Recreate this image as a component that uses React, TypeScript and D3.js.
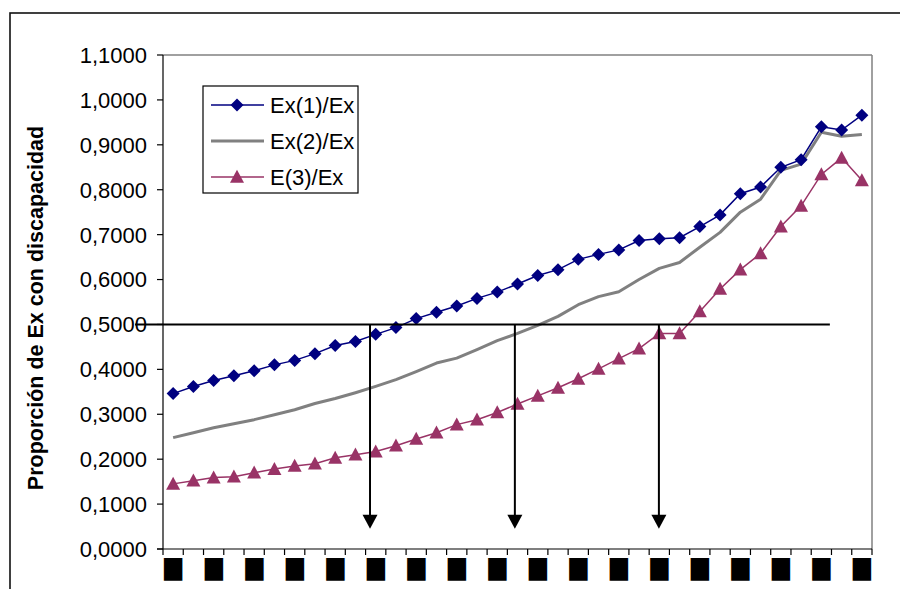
import React from "react";
import * as d3 from "d3";

const seriesNames = ["Ex(1)/Ex", "Ex(2)/Ex", "E(3)/Ex"];
const ex1 = [0.346, 0.362, 0.375, 0.386, 0.397, 0.41, 0.42, 0.435, 0.453, 0.462, 0.478, 0.493, 0.513, 0.527, 0.541, 0.558, 0.572, 0.59, 0.609, 0.622, 0.645, 0.656, 0.666, 0.687, 0.691, 0.693, 0.718, 0.744, 0.791, 0.806, 0.85, 0.867, 0.94, 0.933, 0.966];
const ex2 = [0.248, 0.259, 0.27, 0.279, 0.288, 0.299, 0.31, 0.324, 0.335, 0.348, 0.362, 0.377, 0.395, 0.414, 0.425, 0.444, 0.464, 0.48, 0.498, 0.518, 0.544, 0.562, 0.573, 0.6, 0.625, 0.638, 0.672, 0.705, 0.75, 0.779, 0.843, 0.857, 0.928, 0.919, 0.923];
const ex3 = [0.145, 0.152, 0.159, 0.161, 0.17, 0.178, 0.185, 0.19, 0.203, 0.21, 0.217, 0.23, 0.245, 0.259, 0.277, 0.288, 0.304, 0.323, 0.341, 0.359, 0.379, 0.401, 0.424, 0.446, 0.48, 0.48, 0.529, 0.579, 0.622, 0.658, 0.718, 0.764, 0.834, 0.871, 0.821];
const xTickLabels = ["█", "█", "█", "█", "█", "█", "█", "█", "█", "█", "█", "█", "█", "█", "█", "█", "█", "█"];
const yTicks = [0, 0.1, 0.2, 0.3, 0.4, 0.5, 0.6, 0.7, 0.8, 0.9, 1.0, 1.1];
const refLevel = 0.5;
const refLineRange = [-1.38, 32.92];
const arrowPositions = [10.22, 17.37, 24.48];
const arrowBottom = 0.045;
const yTitle = "Proporción de Ex con discapacidad";

const W = 900;
const H = 589;
const left = 163, right = 872, top = 55, bottom = 549;
const FONT = "'Liberation Sans', Arial, sans-serif";

export default function App() {
  const n = ex1.length;
  const x = d3.scaleLinear().domain([0, n]).range([left, right]);
  const y = d3.scaleLinear().domain([0, 1.1]).range([bottom, top]);
  const cx = (i: number) => x(i + 0.5);
  const line = d3.line<number>().x((_, i) => cx(i)).y((d) => y(d));
  const fmt = (v: number) => v.toFixed(4).replace(".", ",");

  const diamond = (px: number, py: number, r = 6.5) =>
    `M${px},${py - r}L${px + r},${py}L${px},${py + r}L${px - r},${py}Z`;
  const tri = (px: number, py: number, w = 14, h = 13) =>
    `M${px},${py - h * 0.55}L${px + w / 2},${py + h * 0.45}L${px - w / 2},${py + h * 0.45}Z`;

  const navy = "#000080";
  const grey = "#808080";
  const maroon = "#993366";

  return (
    <svg width={W} height={H} style={{ position: "absolute", left: 0, top: 0 }} fontFamily={FONT}>
      <rect x={0} y={0} width={W} height={H} fill="#fff" />
      {/* outer chart frame */}
      <rect x={10} y={13} width={1000} height={1000} fill="none" stroke="#111" strokeWidth={1.6} />
      {/* plot area border */}
      <line x1={left} x2={right} y1={top} y2={top} stroke={grey} strokeWidth={1.5} />
      <line x1={right} x2={right} y1={top} y2={bottom} stroke={grey} strokeWidth={1.5} />
      {/* y axis */}
      <line x1={left} x2={left} y1={top} y2={bottom} stroke="#000" strokeWidth={1.2} />
      {yTicks.map((t) => (
        <g key={t}>
          <line x1={left - 6} x2={left} y1={y(t)} y2={y(t)} stroke="#000" strokeWidth={1.2} />
          <text x={left - 16} y={y(t)} dy="0.36em" textAnchor="end" fontSize={22} fill="#000">
            {fmt(t)}
          </text>
        </g>
      ))}
      {/* x axis */}
      <line x1={left - 6} x2={right} y1={bottom} y2={bottom} stroke="#000" strokeWidth={1.2} />
      {d3.range(n + 1).map((i) => (
        <line key={i} x1={x(i)} x2={x(i)} y1={bottom} y2={bottom + 6} stroke="#000" strokeWidth={1.2} />
      ))}
      {xTickLabels.map((lab, k) => (
        <text key={k} x={cx(k * 2)} y={576} textAnchor="middle" fontSize={19}
          fontFamily="'DejaVu Sans', sans-serif" textLength={18} lengthAdjust="spacingAndGlyphs" fill="#000">
          {lab}
        </text>
      ))}
      {/* y title */}
      <text transform={`translate(43,${308}) rotate(-90)`} textAnchor="middle" fontSize={21.5} fontWeight="bold" fill="#000">
        {yTitle}
      </text>
      {/* series lines */}
      <path d={line(ex2) || ""} fill="none" stroke={grey} strokeWidth={3} strokeLinejoin="round" />
      <path d={line(ex1) || ""} fill="none" stroke={navy} strokeWidth={1.5} />
      <path d={line(ex3) || ""} fill="none" stroke={maroon} strokeWidth={1.5} />
      {ex1.map((v, i) => (
        <path key={"d" + i} d={diamond(cx(i), y(v))} fill={navy} />
      ))}
      {ex3.map((v, i) => (
        <path key={"t" + i} d={tri(cx(i), y(v))} fill={maroon} />
      ))}
      {/* reference line */}
      <line x1={x(refLineRange[0])} x2={x(refLineRange[1])} y1={y(refLevel)} y2={y(refLevel)} stroke="#000" strokeWidth={2} />
      {arrowPositions.map((a, k) => {
        const ax = x(a);
        const yb = y(arrowBottom);
        return (
          <g key={k}>
            <line x1={ax} x2={ax} y1={y(refLevel)} y2={yb - 12} stroke="#000" strokeWidth={2} />
            <path d={`M${ax - 7.5},${yb - 14}L${ax + 7.5},${yb - 14}L${ax},${yb}Z`} fill="#000" />
          </g>
        );
      })}
      {/* legend */}
      <rect x={203} y={86} width={155} height={107} fill="#fff" stroke="#000" strokeWidth={1.2} />
      {[0, 1, 2].map((k) => {
        const ly = [105, 141, 177][k];
        const col = [navy, grey, maroon][k];
        return (
          <g key={k}>
            <line x1={211} x2={264} y1={ly} y2={ly} stroke={col} strokeWidth={k === 1 ? 3 : 1.5} />
            {k === 0 && <path d={diamond(237, ly)} fill={navy} />}
            {k === 2 && <path d={tri(237, ly)} fill={maroon} />}
            <text x={270} y={ly} dy="0.36em" fontSize={22} fill="#000">
              {seriesNames[k]}
            </text>
          </g>
        );
      })}
    </svg>
  );
}
